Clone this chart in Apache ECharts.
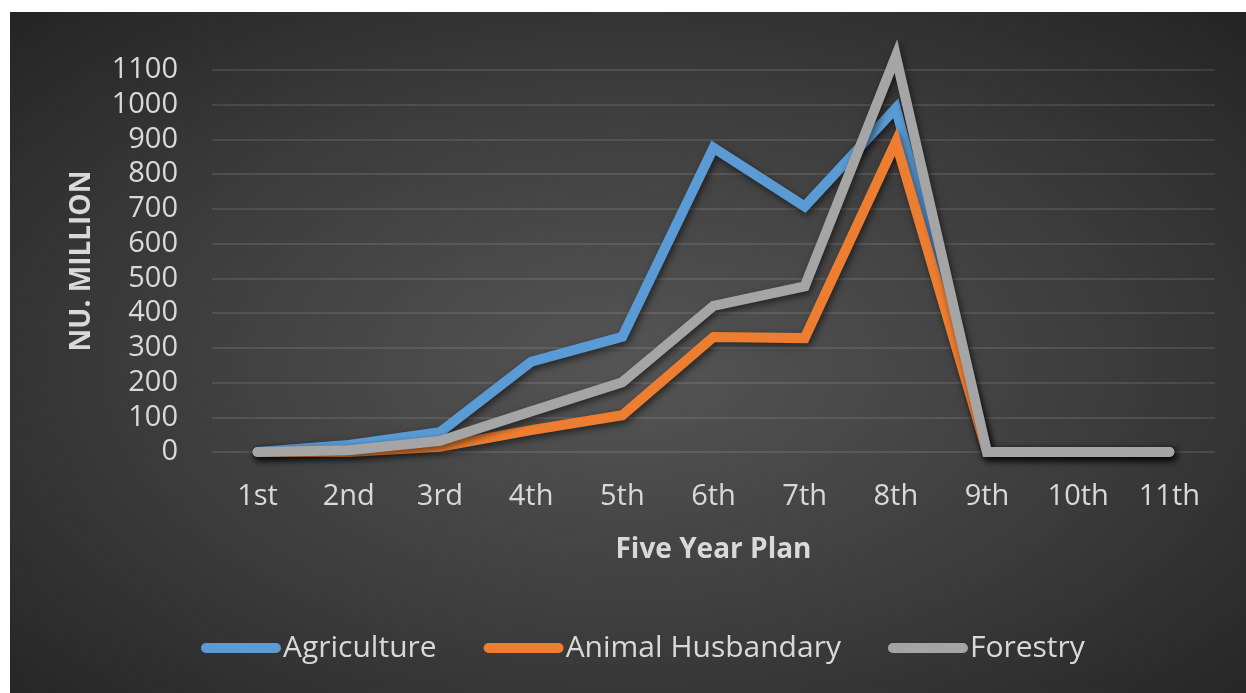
<!DOCTYPE html>
<html>
<head>
<meta charset="utf-8">
<title>Five Year Plan outlay</title>
<script src="https://cdn.jsdelivr.net/npm/echarts@6/dist/echarts.min.js"></script>
<style>
  html, body { margin: 0; padding: 0; background: #ffffff; }
  #chart {
    position: absolute; left: 10px; top: 12px; width: 1236px; height: 681px;
    background: radial-gradient(ellipse farthest-corner at 50% 52%, #555555 0%, #3c3c3c 55%, #242424 100%);
  }
</style>
</head>
<body>
<div id="chart"></div>
<script>
// Five Year Plans (x axis)
const plans = ['1st', '2nd', '3rd', '4th', '5th', '6th', '7th', '8th', '9th', '10th', '11th'];

// Outlay per sector, Nu. million
const agriculture = [0, 20, 57, 260, 332, 876, 707, 990, 0, 0, 0];
const animalHusbandry = [0, 0, 15, 63, 106, 331, 328, 893, 0, 0, 0];
const forestry = [0, 5, 32, 117, 201, 421, 477, 1140, 0, 0, 0];

// Value axis ticks
const yMin = 0, yMax = 1100, yStep = 100;

const textColor = '#d9d9d9';
const font = '"Open Sans", "Noto Sans", sans-serif';
const pill = 'path://M5,0 H75 A5,5 0 0 1 75,10 H5 A5,5 0 0 1 5,0 Z';

function lineSeries(name, data, color) {
  return {
    name: name,
    type: 'line',
    data: data,
    showSymbol: false,
    symbol: 'none',
    clip: false,
    color: color,
    lineStyle: {
      width: 10,
      color: color,
      cap: 'round',
      join: 'miter',
      shadowColor: 'rgba(0,0,0,0.55)',
      shadowBlur: 7,
      shadowOffsetX: 2,
      shadowOffsetY: 3
    },
    emphasis: { disabled: true }
  };
}

const chart = echarts.init(document.getElementById('chart'), null, { renderer: 'canvas' });
chart.setOption({
  backgroundColor: 'transparent',
  animation: false,
  textStyle: { fontFamily: font, color: textColor },
  grid: { left: 202, right: 31, top: 58, bottom: 241, containLabel: false },
  legend: {
    left: 186,
    top: 616,
    itemWidth: 80,
    itemHeight: 10,
    itemGap: 47,
    icon: pill,
    textStyle: { color: textColor, fontSize: 30, fontFamily: font, padding: [0, 0, 0, -3] },
    data: ['Agriculture', 'Animal Husbandary', 'Forestry']
  },
  xAxis: {
    type: 'category',
    data: plans,
    boundaryGap: true,
    name: 'Five Year Plan',
    nameLocation: 'middle',
    nameGap: 84,
    nameTextStyle: { color: textColor, fontSize: 28, fontWeight: 'bold', fontFamily: font },
    axisLine: { show: false },
    axisTick: { show: false },
    axisLabel: { color: textColor, fontSize: 29, fontFamily: font, margin: 30 }
  },
  yAxis: {
    type: 'value',
    min: yMin,
    max: yMax,
    interval: yStep,
    name: 'NU. MILLION',
    nameLocation: 'middle',
    nameGap: 116,
    nameRotate: 90,
    nameTextStyle: { color: textColor, fontSize: 28, fontWeight: 'bold', fontFamily: font },
    axisLine: { show: false },
    axisTick: { show: false },
    axisLabel: {
      color: textColor, fontSize: 29, fontFamily: font, margin: 34,
      formatter: function (v) { return String(v); }
    },
    splitLine: { show: true, lineStyle: { color: 'rgba(255,255,255,0.10)', width: 2 } }
  },
  series: [
    lineSeries('Agriculture', agriculture, '#5b9bd5'),
    lineSeries('Animal Husbandary', animalHusbandry, '#ed7d31'),
    lineSeries('Forestry', forestry, '#a5a5a5')
  ]
});
</script>
</body>
</html>
